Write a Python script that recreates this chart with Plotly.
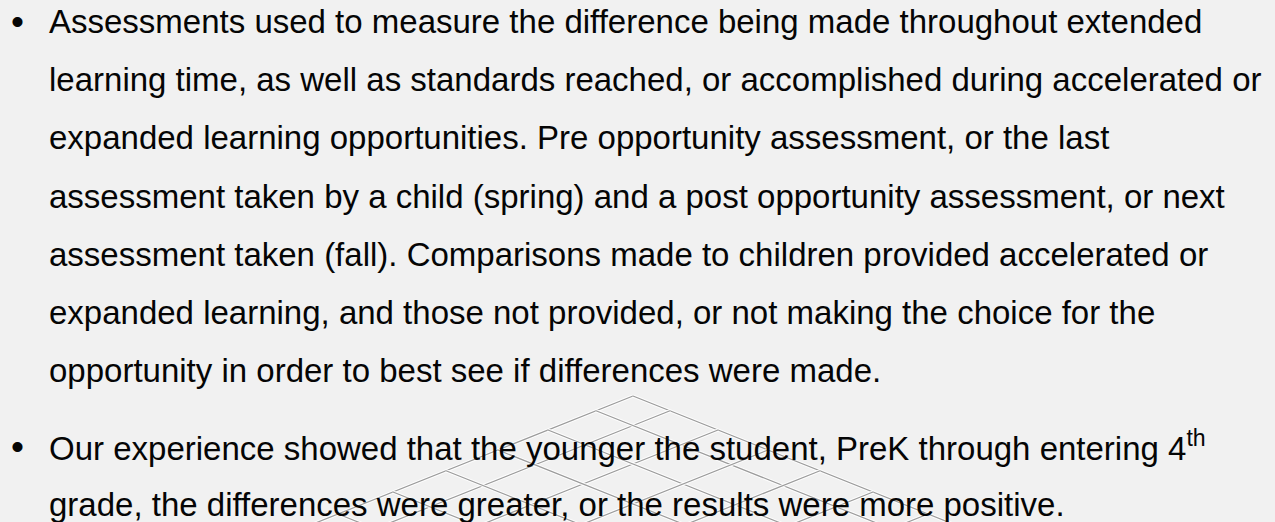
import plotly.graph_objects as go

W, H = 1275, 522

# ---- text content ----
bullet1_lines = [
    "Assessments used to measure the difference being made throughout extended",
    "learning time, as well as standards reached, or accomplished during accelerated or",
    "expanded learning opportunities. Pre opportunity assessment, or the last",
    "assessment taken by a child (spring) and a post opportunity assessment, or next",
    "assessment taken (fall). Comparisons made to children provided accelerated or",
    "expanded learning, and those not provided, or not making the choice for the",
    "opportunity in order to best see if differences were made.",
]
bullet2_lines = [
    "Our experience showed that the younger the student, PreK through entering 4<sup>th</sup>",
    "grade, the differences were greater, or the results were more positive.",
]
bullet1_baselines = [33, 91, 149, 208, 266, 324, 382]
bullet2_baselines = [458, 516]

# ---- decorative lattice parameters ----
apex = (633, 396)
slope = 0.40
steps = [0, 37, 85, 135, 187, 240, 295, 352, 411, 472]

FS = 33
FONT = "Liberation Sans"
TEXT_X = 47
BULLET_X = 17

fig = go.Figure()

def vertex(i, j):
    su, sv = steps[i], steps[j]
    return apex[0] + su - sv, apex[1] + slope * (su + sv)

n = len(steps)
for i in range(n):
    for kind in range(2):
        xs, ys = [], []
        for j in range(n):
            x, y = vertex(i, j) if kind == 0 else vertex(j, i)
            xs.append(x)
            ys.append(y)
        fig.add_trace(go.Scatter(x=xs, y=ys, mode="lines",
                                 line=dict(color="rgba(255,255,255,0.9)", width=3.2),
                                 hoverinfo="skip", showlegend=False))
        fig.add_trace(go.Scatter(x=xs, y=ys, mode="lines",
                                 line=dict(color="#9c9c9c", width=1.2),
                                 hoverinfo="skip", showlegend=False))

annotations = []
def add_line(text, baseline, x):
    annotations.append(dict(
        x=x, y=baseline - 0.36 * FS, xref="x", yref="y", text=text,
        showarrow=False, xanchor="left", yanchor="middle",
        font=dict(family=FONT, size=FS, color="#050505"),
    ))

for lines, bases in ((bullet1_lines, bullet1_baselines), (bullet2_lines, bullet2_baselines)):
    for k, (t, b) in enumerate(zip(lines, bases)):
        add_line(t, b, TEXT_X)
        if k == 0:
            annotations.append(dict(
                x=BULLET_X, y=b - 0.36 * FS, xref="x", yref="y", text="•",
                showarrow=False, xanchor="center", yanchor="middle",
                font=dict(family=FONT, size=FS + 4, color="#050505"),
            ))

fig.update_layout(
    width=W, height=H,
    margin=dict(l=0, r=0, t=0, b=0),
    paper_bgcolor="#f1f1f1", plot_bgcolor="#f1f1f1",
    xaxis=dict(range=[0, W], visible=False, fixedrange=True),
    yaxis=dict(range=[H, 0], visible=False, fixedrange=True),
    annotations=annotations,
    showlegend=False,
)

fig.write_html("out.html", config={"displayModeBar": False},
               post_script="document.body.style.margin='0';document.body.style.background='#f1f1f1';")
